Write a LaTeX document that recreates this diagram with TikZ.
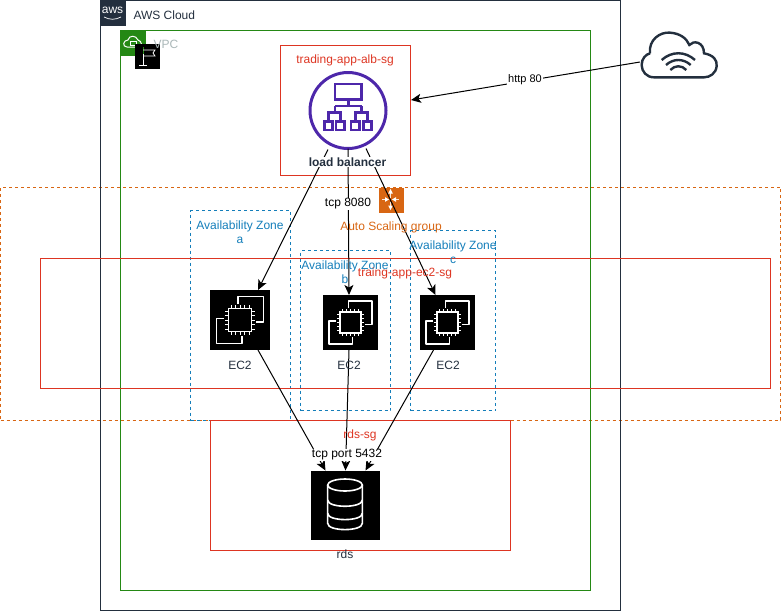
\documentclass[tikz,border=0pt]{standalone}
\usepackage{fontspec}
\setmainfont{Liberation Sans}
\usepackage{xcolor}
\usepackage{tikz}
\usetikzlibrary{positioning}
\usetikzlibrary{calc}
\usetikzlibrary{arrows.meta}
\tikzset{>=stealth}
\definecolor{awsdark}{HTML}{232F3E}
\definecolor{awsgreen}{HTML}{248814}
\definecolor{awsred}{HTML}{DD3522}
\definecolor{awsblue}{HTML}{147EBA}
\definecolor{awsorange}{HTML}{D86613}
\definecolor{awspurple}{HTML}{4D27AA}
\definecolor{awsgrey}{HTML}{AAB7B8}
\tikzset{
	chip/.pic={
		\draw [white, line width=1.4pt, line join=round] (-2,-16) -- (-2,-23.5) -- (23.5,-23.5) -- (23.5,2) -- (16,2);
		\draw [white, line width=1.4pt, line join=round] (-16,-1.5) -- (-23.5,-1.5) -- (-23.5,23.5) -- (2,23.5) -- (2,16);
		\draw [white, line width=1.7pt] (-11.5,-11.5) rectangle (11.5,11.5);
		\foreach \pinpos in {-9,-4.5,0,4.5,9} {
			\draw [white, line width=1pt] (\pinpos,-11.5) -- (\pinpos,-15);
			\draw [white, line width=1pt] (\pinpos,11.5) -- (\pinpos,15);
			\draw [white, line width=1pt] (-11.5,\pinpos) -- (-15,\pinpos);
			\draw [white, line width=1pt] (11.5,\pinpos) -- (15,\pinpos);
		}
	}
}
\begin{document}
\begin{tikzpicture}[x=1pt, y=-1pt, line width=1pt,
	every node/.style={font=\fontsize{12}{14}\selectfont},
	region/.style={draw, anchor=north west, inner sep=0pt, outer sep=0pt},
	sg/.style={region, awsred},
	zone/.style={region, awsblue, dash pattern=on 3pt off 3pt},
	iconbox/.style={fill=black, inner sep=0pt, outer sep=0pt, minimum size=#1},
	caption/.style={align=center, inner sep=0pt},
	line/.style={draw, -{Stealth[length=10pt, width=9pt, inset=2.5pt]}},
	tag/.style={caption, fill=white, inner sep=1pt}]
	\useasboundingbox (0,0) rectangle (781,611);
	%% Groups
	\node [region, draw=awsorange, dash pattern=on 3pt off 3pt, minimum width=780pt, minimum height=233pt] (asg) at (0.5,187) {};
	\node [region, draw=awsdark, minimum width=520pt, minimum height=610pt] (cloud) at (100.5,0.5) {};
	\node [region, draw=awsgreen, minimum width=470pt, minimum height=560pt] (vpc) at (120.5,30.5) {};
	\node [sg, minimum width=130pt, minimum height=130pt] (albsg) at (280.5,45.5) {};
	\node [zone, minimum width=100pt, minimum height=210pt] (zonea) at (190.5,210.5) {};
	\node [zone, minimum width=90pt, minimum height=160pt] (zoneb) at (300.5,250.5) {};
	\node [zone, minimum width=85pt, minimum height=180pt] (zonec) at (410.5,230.5) {};
	\node [sg, minimum width=730pt, minimum height=130pt] (ec2sg) at (40.5,258.5) {};
	\node [sg, minimum width=300pt, minimum height=130pt] (rdssg) at (210.5,420.5) {};
	%% Group icons
	\node [fill=awsdark, inner sep=0pt, minimum size=25pt, anchor=north west] (awslogo) at (100,0) {};
	\node [text=white, inner sep=0pt, font=\fontsize{12}{12}\selectfont] (awsword) at (112.5,10) {aws};
	\draw [white, line width=.7pt] (104,17) .. controls (110,20) and (115,20) .. (121,17);
	\node [fill=awsgreen, inner sep=0pt, minimum size=25pt, anchor=north west] (vpclogo) at (120,30) {};
	\draw [white, line width=1pt] (127,47) .. controls (122,47) and (123,40) .. (128,40) .. controls (129,35) and (136,35) .. (138,40) .. controls (142,41) and (143,47) .. (138,47) -- cycle;
	\draw [white, line width=.8pt] (130,41) rectangle (136,45);
	\node [iconbox=25pt, anchor=north west] (flag) at (135,44) {};
	\draw [white, line width=.8pt] (143,54) -- (143,65) (139,65) -- (147,65);
	\draw [awsgreen, line width=.8pt] (143,47) -- (143,54);
	\draw [white, line width=.8pt] (143,50) -- (155,50) -- (153,53) -- (155,56) -- (143,56);
	\node [fill=awsorange, inner sep=0pt, minimum size=25pt, anchor=north west] (asglogo) at (378,187) {};
	\draw [white!85!awsorange, line width=.9pt] (390.5,191) -- (390.5,198) (390.5,202) -- (390.5,208) (382,199.5) -- (388,199.5) (393,199.5) -- (399,199.5);
	\draw [white, fill=white] (390.5,190) -- (389,193) -- (392,193) -- cycle (390.5,209) -- (389,206) -- (392,206) -- cycle;
	\draw [white, fill=white] (388,199.5) -- (385.5,198) -- (385.5,201) -- cycle (393,199.5) -- (395.5,198) -- (395.5,201) -- cycle;
	%% Load balancer
	\node [circle, draw=awspurple, line width=3pt, inner sep=0pt, outer sep=0pt, minimum size=76pt] (lb) at (348,110.5) {};
	\begin{scope}[shift={(280,40)}, scale=1/3, awspurple, line width=2.6pt]
		\draw (165,132) rectangle (245,178);
		\draw (205,178) -- (205,198) (165,198) -- (245,198);
		\draw (165,198) -- (165,218) (245,198) -- (245,218);
		\draw (146,245) -- (146,218) -- (181,218) -- (181,245);
		\draw (226,245) -- (226,218) -- (262,218) -- (262,245);
		\foreach \boxleft in {133,168,213,250} {
			\draw (\boxleft,245) rectangle ++(25,25);
		}
	\end{scope}
	%% Internet
	\begin{scope}[shift={(630,20)}, scale=1/3, awsdark, line width=2.4pt]
		\draw (60,100) .. controls (55,60) and (90,35) .. (120,38) .. controls (150,40) and (170,55) .. (178,75) .. controls (190,60) and (222,65) .. (222,100) .. controls (250,105) and (262,120) .. (260,138) .. controls (258,160) and (240,172) .. (222,172) -- (72,172) .. controls (50,172) and (35,155) .. (35,135) .. controls (35,115) and (48,103) .. (60,100);
		\draw (95,120) .. controls (125,93) and (165,93) .. (195,120);
		\draw (108,135) .. controls (130,115) and (160,115) .. (182,135);
		\draw (121,150) .. controls (135,135) and (155,135) .. (169,150);
	\end{scope}
	\coordinate (inet) at (640,62);
	\coordinate (albin) at (411,100);
	%% Instances
	\node [iconbox=60pt] (ec2a) at (240,320) {};
	\node [iconbox=55pt] (ec2b) at (350.5,322.5) {};
	\node [iconbox=55pt] (ec2c) at (447.5,322.5) {};
	\pic at (ec2a) {chip};
	\pic [scale=.92] at (ec2b) {chip};
	\pic [scale=.92] at (ec2c) {chip};
	%% Database
	\node [iconbox=69pt] (rds) at (345.5,505) {};
	\begin{scope}[shift={(300,420)}, scale=1/3, white, line width=1.6pt]
		\draw (135,195) ellipse [x radius=52, y radius=18];
		\draw (83,195) -- (83,310) .. controls (83,335) and (187,335) .. (187,310) -- (187,195);
		\draw (83,240) .. controls (83,265) and (187,265) .. (187,240);
		\draw (83,280) .. controls (83,305) and (187,305) .. (187,280);
	\end{scope}
	%% Flows
	\path [line] (inet) -- (albin);
	\path [line] ($(lb.south)+(-20,1)$) -- ($(ec2a.north)+(18,0)$);
	\path [line] (lb.south) -- ($(ec2b.north)+(-1.5,0)$);
	\path [line] ($(lb.south)+(18,0)$) -- ($(ec2c.north)+(-12,0)$);
	\path [line] ($(ec2a.south)+(18,0)$) -- ($(rds.north)+(-20,0)$);
	\path [line] ($(ec2b.south)+(-1.5,0)$) -- (rds.north);
	\path [line] ($(ec2c.south)+(-14,0)$) -- ($(rds.north)+(20,0)$);
	%% Labels
	\node [caption, text=awsdark, anchor=west] (cloudtext) at (133,15) {AWS Cloud};
	\node [caption, text=awsgrey, anchor=west] (vpctext) at (153,44) {VPC};
	\node [caption, text=awsred] (albtext) at (345,60) {trading-app-alb-sg};
	\node [tag, text=awsdark, font=\fontsize{12}{14}\selectfont\bfseries] (lbtext) at (347.5,162) {load balancer};
	\node [tag, font=\fontsize{11}{13}\selectfont] (inettext) at (525,80) {http 80};
	\node [tag] (apptext) at (348,204) {tcp 8080};
	\node [caption, text=awsorange] (asgtext) at (391,227) {Auto Scaling group};
	\node [caption, text=awsblue] (zoneatext) at (240,232) {Availability Zone\\a};
	\node [caption, text=awsblue] (zonebtext) at (345,272) {Availability Zone\\b};
	\node [caption, text=awsblue] (zonectext) at (453,252) {Availability Zone\\c};
	\node [caption, text=awsred] (ec2text) at (405,273) {traing-app-ec2-sg};
	\node [caption, text=awsdark] (ec2atext) at (240,365) {EC2};
	\node [caption, text=awsdark] (ec2btext) at (349,365) {EC2};
	\node [caption, text=awsdark] (ec2ctext) at (448,365) {EC2};
	\node [caption, text=awsred] (rdstext) at (360,435) {rds-sg};
	\node [tag] (dbtext) at (347,455) {tcp port 5432};
	\node [caption, text=awsdark] (rdslabel) at (345,554) {rds};
\end{tikzpicture}
\end{document}
